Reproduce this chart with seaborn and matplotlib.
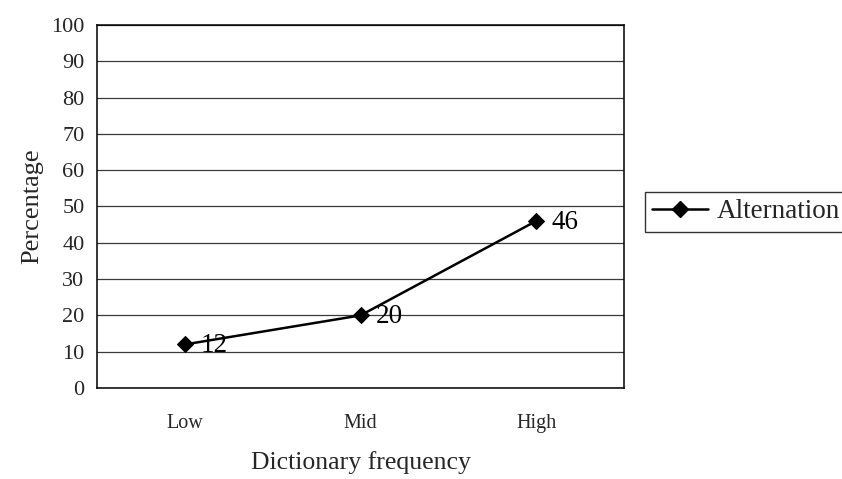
import matplotlib
matplotlib.use('Agg')
import matplotlib.pyplot as plt
from matplotlib.lines import Line2D
import numpy as np
import pandas as pd
import seaborn as sns

# Data
categories = ['Low', 'Mid', 'High']
percentages = [12, 20, 46]
series_name = 'Alternation'

df = pd.DataFrame({'freq': categories, 'pct': percentages, 'series': series_name})

sns.set_style('white')
plt.rcParams['font.family'] = ['Liberation Serif', 'DejaVu Serif']

fig = plt.figure(figsize=(8.42, 4.79), dpi=100)
ax = fig.add_axes([97/842, 1 - 388/479, (624 - 97)/842, (388 - 25)/479])

sns.lineplot(data=df, x='freq', y='pct', hue='series', palette=['black'],
             marker='D', markersize=8.5, linewidth=1.8, markeredgecolor='black',
             ax=ax, legend=False, zorder=3)

# data labels next to each point
for i, v in enumerate(percentages):
    ax.annotate(str(v), (i, v), xytext=(11, -1), textcoords='offset points',
                ha='left', va='center', fontsize=19.5, color='black')

ax.set_xlim(-0.5, 2.5)
ax.set_ylim(0, 100)
ax.set_yticks(np.arange(0, 101, 10))
ax.yaxis.grid(True, color='#3a3a3a', linewidth=0.9)
ax.set_axisbelow(True)

ax.set_xticks(range(len(categories)))
ax.set_xticklabels(categories, fontsize=14.5)
ax.set_xticks([-0.5, 0.5, 1.5, 2.5], minor=True)
ax.tick_params(axis='x', which='major', length=0, pad=19)
ax.tick_params(axis='x', which='minor', length=6, width=1, color='black', direction='out')
ax.tick_params(axis='y', length=6, width=1, color='black', direction='out', labelsize=16, pad=3)

for s in ax.spines.values():
    s.set_color('black')
    s.set_linewidth(1.1)

ax.set_xlabel('Dictionary frequency', fontsize=18.5, labelpad=13)
ax.set_ylabel('Percentage', fontsize=19, labelpad=6)

# legend at the right edge, partly clipped like the original
h = Line2D([], [], color='black', marker='D', markersize=8.5, linewidth=1.8)
leg = fig.legend([h], [series_name], loc='center left',
                 bbox_to_anchor=(645/842, 1 - 212/479), fontsize=19.5,
                 frameon=True, fancybox=False, edgecolor='black',
                 handlelength=2.05, handletextpad=0.33, borderpad=0.26,
                 borderaxespad=0)
leg.get_frame().set_linewidth(1.0)

fig.savefig('out.png', dpi=100)
